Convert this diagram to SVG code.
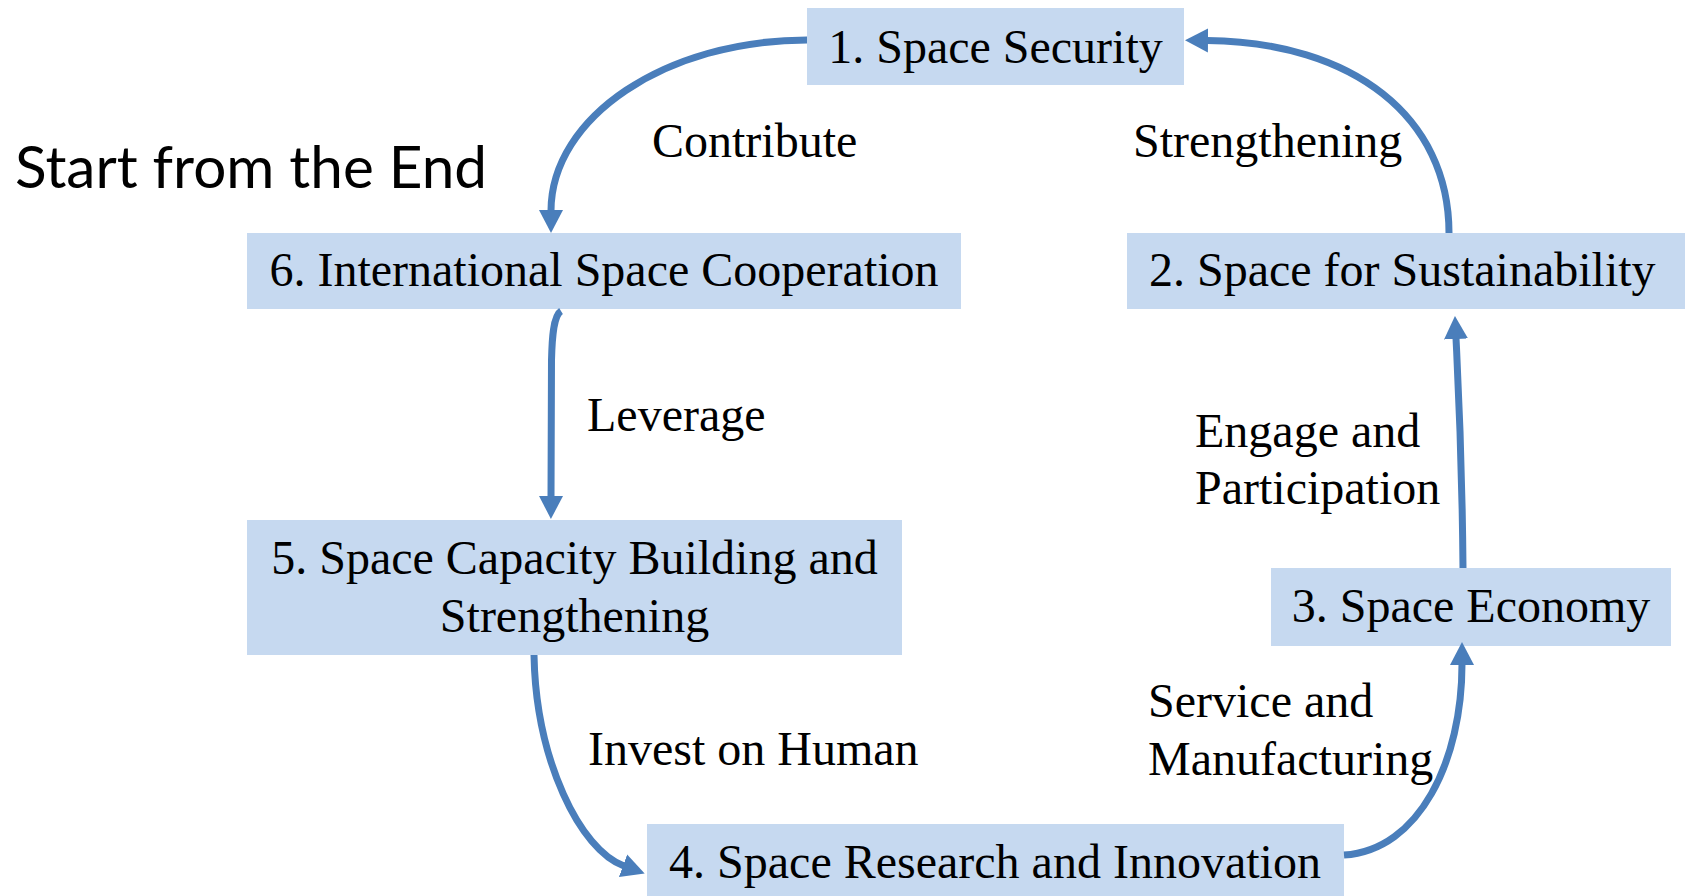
<svg xmlns="http://www.w3.org/2000/svg" width="1685" height="896" viewBox="0 0 1685 896">
<style>
.box{fill:#C6D9F0;}
.t{font-family:"Liberation Serif","Times New Roman",serif;font-size:48px;fill:#000;}
.c{text-anchor:middle;}
.conn{fill:none;stroke:#4A7EBB;stroke-width:7;}
.title{font-family:Lato,"Open Sans",sans-serif;font-size:58px;fill:#000;}
</style>
<defs>
<marker id="ah" markerUnits="userSpaceOnUse" markerWidth="24" markerHeight="26" refX="1" refY="12" orient="auto" viewBox="0 0 24 24">
<path d="M0,0 L23,12 L0,24 z" fill="#4A7EBB"/>
</marker>
</defs>
<rect width="1685" height="896" fill="#fff"/>
<text class="title" x="15" y="188" textLength="472" lengthAdjust="spacingAndGlyphs">Start from the End</text>
<g id="n1"><rect class="box" x="807" y="8" width="377" height="77"/><text class="t c" x="995.5" y="63">1. Space Security</text></g>
<g id="n2"><rect class="box" x="1127" y="233" width="558" height="76"/><text class="t" x="1149" y="286">2. Space for Sustainability</text></g>
<g id="n3"><rect class="box" x="1271" y="568" width="400" height="78"/><text class="t c" x="1471" y="622">3. Space Economy</text></g>
<g id="n4"><rect class="box" x="647" y="824" width="697" height="72"/><text class="t c" x="995" y="878">4. Space Research and Innovation</text></g>
<g id="n5"><rect class="box" x="247" y="520" width="655" height="135"/><text class="t c" x="574.5" y="574">5. Space Capacity Building and</text><text class="t c" x="574.5" y="632">Strengthening</text></g>
<g id="n6"><rect class="box" x="247" y="233" width="714" height="76"/><text class="t c" x="604" y="286">6. International Space Cooperation</text></g>
<g id="connectors">
<path class="conn" marker-end="url(#ah)" d="M807,40 C666,40 551,117 551,211"/>
<path class="conn" marker-end="url(#ah)" d="M1449,233 C1449,117 1353,42 1207,40.5"/>
<path class="conn" marker-end="url(#ah)" d="M561,311 C553,316 552,340 551.5,360 L551,497"/>
<path class="conn" marker-end="url(#ah)" d="M534,655 C536,760 580,850 624,866"/>
<path class="conn" marker-end="url(#ah)" d="M1344,855 C1420,850 1462,760 1462,664"/>
<path class="conn" marker-end="url(#ah)" d="M1463,568 C1462,450 1458,380 1456,338"/>
<text class="t" x="652" y="157">Contribute</text>
<text class="t" x="1133" y="157">Strengthening</text>
<text class="t" x="587" y="431">Leverage</text>
<text class="t" x="1195" y="447">Engage and</text>
<text class="t" x="1195" y="504">Participation</text>
<text class="t" x="588" y="765">Invest on Human</text>
<text class="t" x="1148" y="717">Service and</text>
<text class="t" x="1148" y="775">Manufacturing</text>
</g>
</svg>
